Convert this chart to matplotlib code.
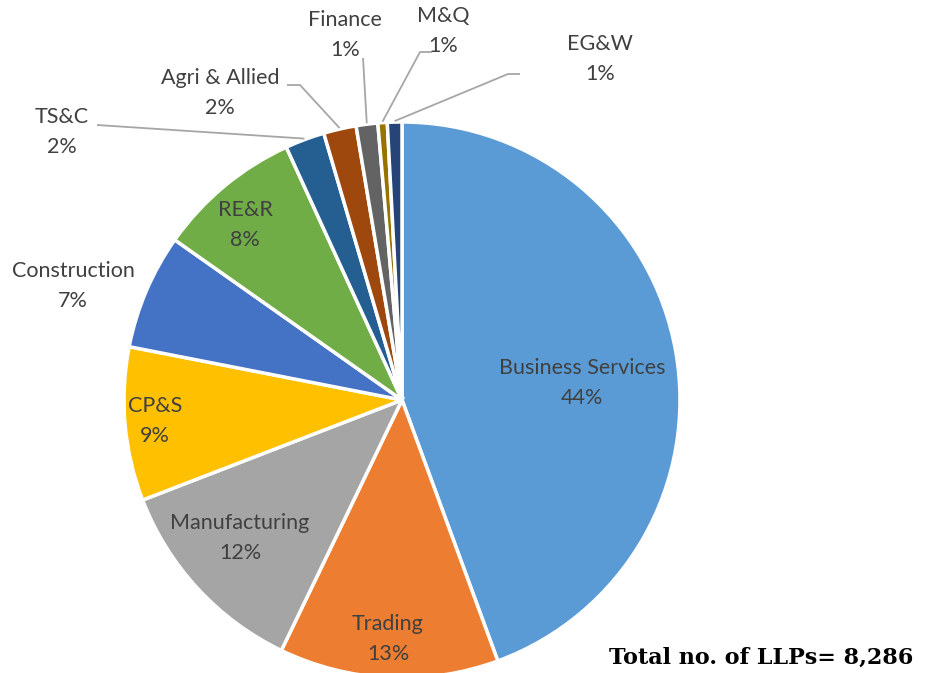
import numpy as np
import matplotlib
matplotlib.use("Agg")
import matplotlib.pyplot as plt

sectors = ["Business Services", "Trading", "Manufacturing", "CP&S", "Construction",
           "RE&R", "TS&C", "Agri & Allied", "Finance", "M&Q", "EG&W"]
counts = [3679, 1056, 994, 740, 555, 696, 190, 157, 104, 45, 70]
colors = ["#5B9BD5", "#ED7D31", "#A5A5A5", "#FFC000", "#4472C4", "#70AD47",
          "#255E91", "#9E480E", "#636363", "#997300", "#264478"]
total_label = "Total no. of LLPs= 8,286"

W, H = 926, 673
fig = plt.figure(figsize=(W / 100, H / 100), dpi=100)
ax = fig.add_axes([0, 0, 1, 1])

cx, cy, R = 402, H - 400, 278
wedges, _ = ax.pie(counts, colors=colors, startangle=90, counterclock=False,
                   center=(cx, cy), radius=R,
                   wedgeprops=dict(edgecolor="white", linewidth=2.5))
ax.set_xlim(0, W)
ax.set_ylim(0, H)
ax.set_aspect("equal")
ax.axis("off")

tot = sum(counts)
pcts = [f"{round(c / tot * 100):d}%" for c in counts]

font = "Lato"
fs = 15.5
tc = "#404040"

# label positions (pixel coords from top-left)
pos = {
    "Business Services": (582, 383),
    "Trading": (388, 639),
    "Manufacturing": (240, 538),
    "CP&S": (155, 421),
    "Construction": (73, 286),
    "RE&R": (245, 225),
    "TS&C": (62, 132),
    "Agri & Allied": (220, 93),
    "Finance": (345, 35),
    "M&Q": (443, 31),
    "EG&W": (600, 59),
}
for name, p in zip(sectors, pcts):
    x, y = pos[name]
    ax.text(x, H - y, f"{name}\n{p}", ha="center", va="center", fontsize=fs,
            family=font, color=tc, linespacing=1.65)

# leader lines: (label-side points) -> wedge edge at mid angle
leaders = {
    "TS&C": [(97, 125)],
    "Agri & Allied": [(287, 85), (300, 85)],
    "Finance": [(363, 58)],
    "M&Q": [(432, 52), (420, 52)],
    "EG&W": [(520, 74), (508, 74)],
}
for w, name in zip(wedges, sectors):
    if name not in leaders:
        continue
    ang = np.deg2rad((w.theta1 + w.theta2) / 2)
    ex = cx + (R + 1) * np.cos(ang)
    ey = cy + (R + 1) * np.sin(ang)
    pts = leaders[name]
    xs = [p[0] for p in pts] + [ex]
    ys = [H - p[1] for p in pts] + [ey]
    ax.plot(xs, ys, color="#A6A6A6", lw=1.3, solid_capstyle="butt")

ax.text(913, H - 658, total_label, ha="right", va="center", fontsize=16,
        family="DejaVu Serif", weight="bold", color="black")

fig.savefig("out.png", dpi=100)
